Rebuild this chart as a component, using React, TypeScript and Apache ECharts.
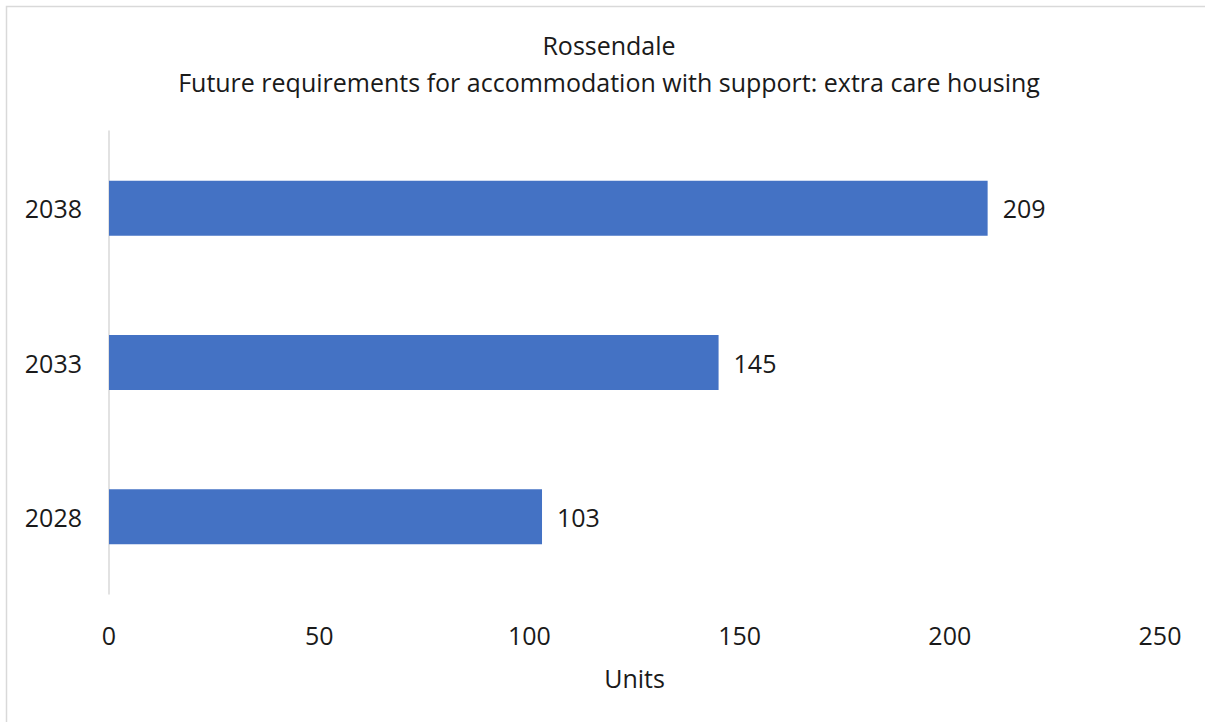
import React, { useEffect, useRef } from "react";
import * as echarts from "echarts";

const categories = ["2028", "2033", "2038"];
const values = [103, 145, 209];
const xTicks = [0, 50, 100, 150, 200, 250];
const titleLines = ["Rossendale", "Future requirements for accommodation with support: extra care housing"];
const xAxisName = "Units";

const FONT = "'Open Sans', 'Noto Sans', sans-serif";
const FS = 25;

export default function App() {
  const ref = useRef<HTMLDivElement>(null);
  useEffect(() => {
    if (!ref.current) return;
    const chart = echarts.init(ref.current, null, { renderer: "svg" });
    chart.setOption({
      animation: false,
      backgroundColor: "#ffffff",
      textStyle: { fontFamily: FONT },
      graphic: [
        {
          type: "rect",
          shape: { x: 6.5, y: 6.5, width: 1400, height: 900 },
          style: { fill: "none", stroke: "#d9d9d9", lineWidth: 1.5 },
          silent: true,
        },
      ],
      title: {
        text: titleLines.join("\n"),
        left: 604,
        top: 21,
        textAlign: "center",
        textStyle: {
          fontFamily: FONT,
          fontSize: FS,
          fontWeight: "normal",
          color: "#1a1a1a",
          lineHeight: 37,
        },
      },
      grid: { left: 109, right: 45, top: 131, bottom: 128, containLabel: false },
      xAxis: {
        type: "value",
        min: xTicks[0],
        max: xTicks[xTicks.length - 1],
        interval: 50,
        name: xAxisName,
        nameLocation: "middle",
        nameGap: 71,
        nameTextStyle: { fontFamily: FONT, fontSize: FS, color: "#1a1a1a" },
        axisLine: { show: false },
        axisTick: { show: false },
        splitLine: { show: false },
        axisLabel: { fontFamily: FONT, fontSize: FS, color: "#1a1a1a", margin: 28 },
      },
      yAxis: {
        type: "category",
        data: categories,
        axisLine: { show: true, lineStyle: { color: "#d9d9d9", width: 1.5 } },
        axisTick: { show: false },
        axisLabel: { fontFamily: FONT, fontSize: FS, color: "#1a1a1a", margin: 27 },
      },
      series: [
        {
          type: "bar",
          data: values,
          barWidth: 55,
          itemStyle: { color: "#4472C4" },
          label: {
            show: true,
            position: "right",
            distance: 15,
            fontFamily: FONT,
            fontSize: FS,
            color: "#1a1a1a",
          },
        },
      ],
    });
    return () => chart.dispose();
  }, []);
  return (
    <div
      ref={ref}
      style={{ position: "fixed", left: 0, top: 0, width: 1205, height: 722 }}
    />
  );
}
